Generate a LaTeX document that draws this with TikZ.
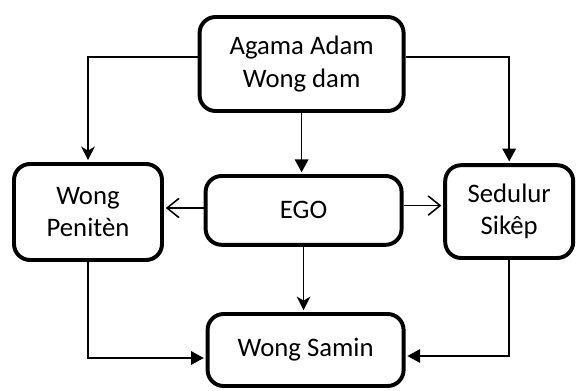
\documentclass[tikz,border=0pt]{standalone}
\usepackage{fontspec}
\setmainfont{Carlito}
\usetikzlibrary{positioning,arrows.meta}
\tikzset{
    block/.style={draw, line width=2.8pt, rounded corners=0.4cm, align=center, inner sep=0pt,
        font=\fontsize{19}{23}\selectfont},
    link/.style={line width=1.1pt, shorten >=1.3pt},
    fullTip/.style={-{Triangle[length=0.32cm, width=0.34cm]}},
    sharpTip/.style={-{Stealth[length=0.34cm, width=0.34cm, inset=0.1cm]}},
    openTip/.style={-{Straight Barb[length=0.3cm, width=0.48cm]}}
}

\begin{document}
\begin{tikzpicture}
	\useasboundingbox (0,0) rectangle (14.4,9.75);
	\node[block, minimum width=5.1cm, minimum height=2.35cm] (agama) at (7.54,8.15) {Agama Adam\\Wong dam};
	\node[block, minimum width=4.9cm, minimum height=1.72cm] (ego) at (7.59,4.49) {EGO};
	\node[block, minimum width=3.7cm, minimum height=2.4cm] (peniten) at (2.2,4.45) {Wong\\Penitèn};
	\node[block, minimum width=3.2cm, minimum height=2.32cm] (sedulur) at (12.73,4.46) {Sedulur\\Sikêp};
	\node[block, minimum width=4.9cm, minimum height=1.8cm] (samin) at (7.64,1.0) {Wong Samin};
	% from the top box
	\draw[link, sharpTip] ([yshift=0.17cm]agama.west) -| (peniten.north);
	\draw[link, fullTip] (agama.south) -- (agama.south |- ego.north);
	\draw[link, fullTip] ([yshift=0.17cm]agama.east) -| (sedulur.north);
	% from EGO
	\draw[link, openTip] ([yshift=0.06cm]ego.west) -- ([yshift=0.06cm]ego.west -| peniten.east);
	\draw[link, openTip] ([yshift=0.12cm]ego.east) -- ([yshift=0.12cm]ego.east -| sedulur.west);
	\draw[link, sharpTip] (ego.south) -- (ego.south |- samin.north);
	% into Wong Samin
	\draw[link, fullTip] (peniten.south) |- ([yshift=-0.2cm]samin.west);
	\draw[link, fullTip] (sedulur.south) |- ([yshift=-0.15cm]samin.east);
\end{tikzpicture}
\end{document}
